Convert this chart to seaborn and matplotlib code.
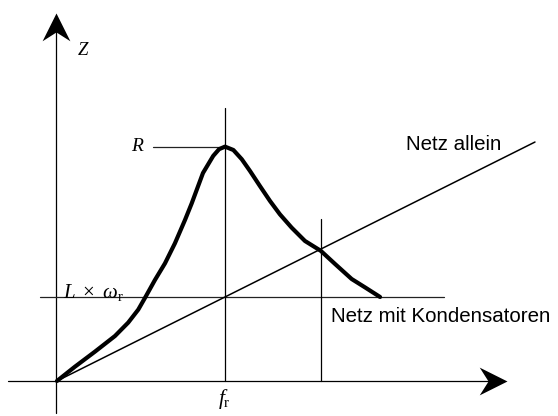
import matplotlib
matplotlib.use("Agg")
import matplotlib.pyplot as plt
from matplotlib.path import Path
import seaborn as sns
import pandas as pd

# Frequency axis normalised to f_r = 1, impedance normalised to L*omega_r = 1
f_r = 1.0
z_lw = 1.0
z_R = 2.79
f_cross = 1.57

# Impedance of the network with capacitors (resonance curve)
curve_f = [0.0, 0.107, 0.226, 0.345, 0.424, 0.484, 0.528, 0.583, 0.643, 0.702,
           0.762, 0.802, 0.869, 0.93, 0.965, 1.0, 1.05, 1.10, 1.149, 1.208,
           1.268, 1.327, 1.397, 1.476, 1.57, 1.655, 1.754, 1.833, 1.923]
curve_z = [0.0, 0.170, 0.349, 0.535, 0.695, 0.850, 1.004, 1.202, 1.401, 1.639,
           1.917, 2.115, 2.476, 2.68, 2.76, 2.79, 2.75, 2.64, 2.50, 2.321,
           2.143, 1.984, 1.825, 1.667, 1.55, 1.393, 1.214, 1.115, 1.0]

# Impedance of the network alone (purely inductive, Z = L*omega)
net_f = [0.0, 2.845]
net_z = [0.0, 2.845]

curve = pd.DataFrame({"f": curve_f, "Z": curve_z})
net = pd.DataFrame({"f": net_f, "Z": net_z})

sns.set_theme(style="white")
plt.rcParams["mathtext.fontset"] = "custom"
plt.rcParams["mathtext.rm"] = "Liberation Serif"
plt.rcParams["mathtext.it"] = "Liberation Serif:italic"

fig = plt.figure(figsize=(5.58, 4.16), dpi=100)
ax = fig.add_axes([0, 0, 1, 1])
ax.set_xlim(-0.339, 2.982)
ax.set_ylim(-0.417, 4.536)
ax.axis("off")

thin = dict(color="black", lw=0.9)

# Stealth-style arrowheads (tip at the path origin)
head_up = Path([(0, 0), (11, -22), (0, -15), (-11, -22), (0, 0)],
               [Path.MOVETO, Path.LINETO, Path.LINETO, Path.LINETO, Path.CLOSEPOLY])
head_right = Path([(0, 0), (-22, 11), (-15, 0), (-22, -11), (0, 0)],
                  [Path.MOVETO, Path.LINETO, Path.LINETO, Path.LINETO, Path.CLOSEPOLY])

# Axes
ax.plot([-0.292, 2.60], [0, 0], **thin)
ax.plot([-0.005, -0.005], [-0.381, 4.25], **thin)
ax.plot([2.68], [0], marker=head_right, markersize=40, color="black", mew=0)
ax.plot([-0.005], [4.38], marker=head_up, markersize=40, color="black", mew=0)

# Reference lines
ax.plot([-0.101, 2.304], [z_lw, z_lw], color="#222222", lw=0.9)
ax.plot([f_r, f_r], [0, 3.25], **thin)
ax.plot([f_cross, f_cross], [0, 1.93], **thin)
ax.plot([0.571, f_r], [z_R, z_R], color="#222222", lw=0.9)

# Curves
sns.lineplot(data=net, x="f", y="Z", ax=ax, color="black", lw=1.1, sort=False)
sns.lineplot(data=curve, x="f", y="Z", ax=ax, color="black", lw=3.0, sort=False,
             solid_joinstyle="round", solid_capstyle="round")

# Labels
serif = dict(family="Liberation Serif", style="italic", color="black")
ax.text(0.155, 3.94, "Z", fontsize=13.5, ha="center", va="center", **serif)
ax.text(0.512, z_R, "R", fontsize=14, ha="right", va="center", **serif)
ax.text(0.036, 0.99, r"$L\ \times\ \omega_{\rm r}$", fontsize=15, ha="left",
        va="baseline", color="black")
ax.text(0.994, -0.274, r"$f_{\rm r}$", fontsize=15.5, ha="center", va="baseline",
        color="black")

sans = dict(family="Liberation Sans", color="black", fontsize=14.8)
ax.text(2.077, 2.75, "Netz allein", ha="left", va="baseline", **sans)
ax.text(1.631, 0.70, "Netz mit Kondensatoren", ha="left", va="baseline", **sans)

fig.savefig("out.png", dpi=100)
